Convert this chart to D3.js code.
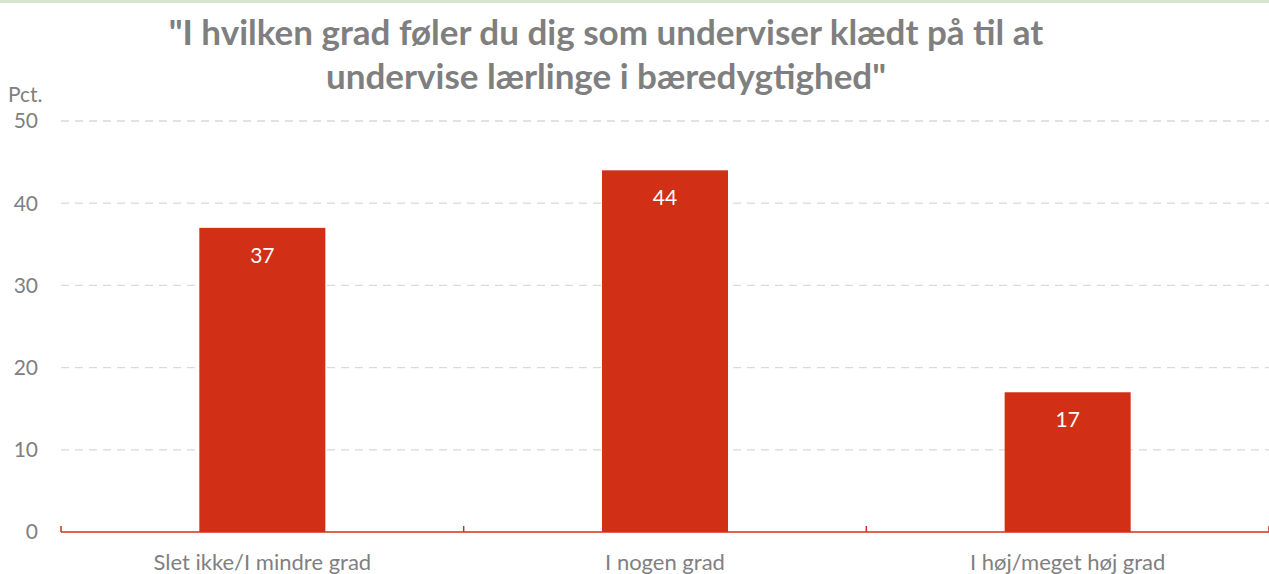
<!DOCTYPE html>
<html>
<head>
<meta charset="utf-8">
<script src="https://cdn.jsdelivr.net/npm/d3@7"></script>
<style>
  body { margin: 0; background: #fff; }
  svg { display: block; font-family: Lato, "Open Sans", sans-serif; }
</style>
</head>
<body>
<div id="chart"></div>
<script>
var categories = ["Slet ikke/I mindre grad", "I nogen grad", "I høj/meget høj grad"];
var values = [37, 44, 17];
var yTicks = [0, 10, 20, 30, 40, 50];
var titleLines = ["\"I hvilken grad føler du dig som underviser klædt på til at",
                  "undervise lærlinge i bæredygtighed\""];

var width = 1269,
    height = 574;
var margin = {top: 121, right: 0, bottom: 42, left: 61};

var svg = d3.select("#chart")
    .append("svg")
    .attr("width", width)
    .attr("height", height);

// thin green strip along the top edge
svg.append("rect")
    .attr("width", width)
    .attr("height", 3)
    .style("fill", "#d6e5cd");

var x = d3.scaleBand()
    .domain(categories)
    .range([margin.left, width - margin.right])
    .paddingInner(0.687)
    .paddingOuter(0.3435);

var y = d3.scaleLinear()
    .domain([0, 50])
    .range([height - margin.bottom, margin.top]);

// gridlines
svg.append("g")
    .selectAll("line")
    .data(yTicks.filter(function(d) { return d > 0; }))
    .enter().append("line")
    .attr("x1", margin.left)
    .attr("x2", width)
    .attr("y1", function(d) { return y(d); })
    .attr("y2", function(d) { return y(d); })
    .style("stroke", "#d9d9d9")
    .style("stroke-width", 1.3)
    .style("stroke-dasharray", "8,6");

// y labels
svg.append("g")
    .selectAll("text")
    .data(yTicks)
    .enter().append("text")
    .attr("x", 38)
    .attr("y", function(d) { return y(d); })
    .attr("dy", "0.35em")
    .style("text-anchor", "end")
    .style("font-size", "21px")
    .style("fill", "#808080")
    .text(function(d) { return d; });

svg.append("text")
    .attr("x", 8)
    .attr("y", 102)
    .style("font-size", "21px")
    .style("fill", "#808080")
    .text("Pct.");

// bars
svg.append("g")
    .selectAll("rect")
    .data(values)
    .enter().append("rect")
    .attr("x", function(d, i) { return x(categories[i]); })
    .attr("y", function(d) { return y(d); })
    .attr("width", x.bandwidth())
    .attr("height", function(d) { return y(0) - y(d); })
    .style("fill", "#d13016");

// value labels
svg.append("g")
    .selectAll("text")
    .data(values)
    .enter().append("text")
    .attr("x", function(d, i) { return x(categories[i]) + x.bandwidth() / 2; })
    .attr("y", function(d) { return y(d) + 35; })
    .style("text-anchor", "middle")
    .style("font-size", "21px")
    .style("fill", "#fff")
    .text(function(d) { return d; });

// x axis line and ticks
var base = y(0);
svg.append("line")
    .attr("x1", margin.left)
    .attr("x2", width)
    .attr("y1", base)
    .attr("y2", base)
    .style("stroke", "#d13016")
    .style("stroke-width", 1.5);

var tickXs = categories.map(function(c) { return x(c) - x.step() * x.paddingInner() / 2; });
tickXs.push(width);
svg.append("g")
    .selectAll("line")
    .data(tickXs)
    .enter().append("line")
    .attr("x1", function(d) { return d; })
    .attr("x2", function(d) { return d; })
    .attr("y1", base - 6)
    .attr("y2", base)
    .style("stroke", "#d13016")
    .style("stroke-width", 1.5);

// category labels
svg.append("g")
    .selectAll("text")
    .data(categories)
    .enter().append("text")
    .attr("x", function(d) { return x(d) + x.bandwidth() / 2; })
    .attr("y", 570)
    .style("text-anchor", "middle")
    .style("font-size", "22px")
    .style("fill", "#808080")
    .text(function(d) { return d; });

// title
svg.append("g")
    .selectAll("text")
    .data(titleLines)
    .enter().append("text")
    .attr("x", 606)
    .attr("y", function(d, i) { return 45 + i * 44; })
    .style("text-anchor", "middle")
    .style("font-size", "35px")
    .style("font-weight", "bold")
    .style("fill", "#7f7f7f")
    .text(function(d) { return d; });
</script>
</body>
</html>
